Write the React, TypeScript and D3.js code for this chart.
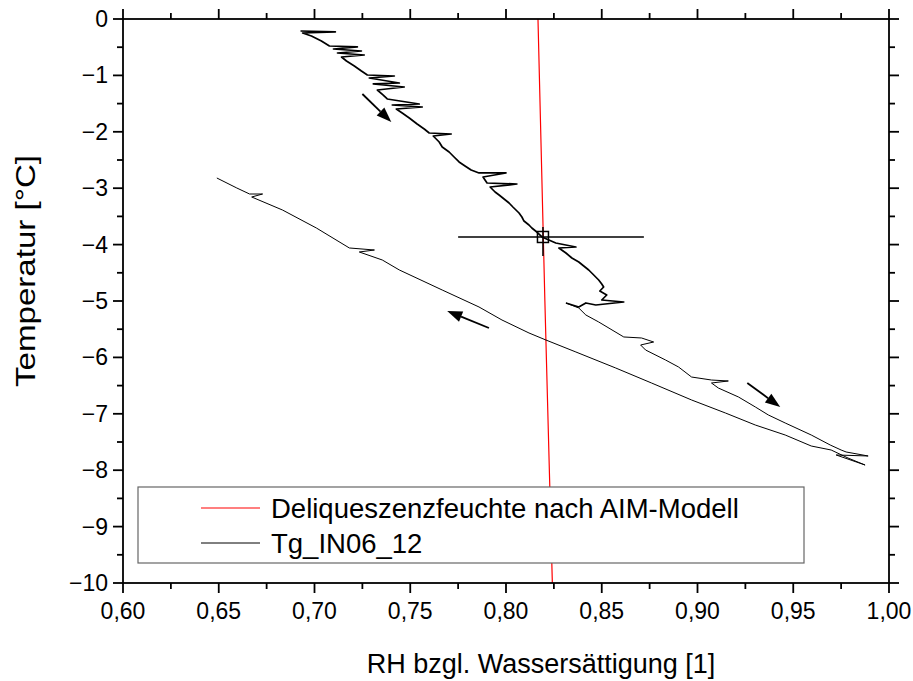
import React from "react";
import * as d3 from "d3";

// ---------- data ----------
const xTicks = [0.6, 0.65, 0.7, 0.75, 0.8, 0.85, 0.9, 0.95, 1.0];
const yTicks = [0, -1, -2, -3, -4, -5, -6, -7, -8, -9, -10];

// Deliquescence humidity (AIM model)
const deliqRH = [0.8167, 0.8203, 0.8242];
const deliqT = [0, -5, -10];

// Tg_IN06_12 — cooling branch (upper, noisy)
const upperBranch: [number, number][] = [
  [0.6927, -0.213], [0.7109, -0.23], [0.6938, -0.248], [0.6984, -0.301], [0.7036, -0.39],
  [0.7078, -0.479], [0.7224, -0.496], [0.7099, -0.532], [0.7245, -0.567], [0.712, -0.603],
  [0.726, -0.638], [0.7141, -0.674], [0.7167, -0.745], [0.7208, -0.833], [0.7245, -0.922],
  [0.7276, -0.993], [0.7417, -1.011], [0.7286, -1.046], [0.7443, -1.135], [0.7307, -1.152],
  [0.7469, -1.206], [0.7328, -1.259], [0.7359, -1.348], [0.738, -1.418], [0.7547, -1.507],
  [0.7406, -1.525], [0.7563, -1.56], [0.7427, -1.596], [0.7458, -1.667], [0.7495, -1.755],
  [0.7536, -1.862], [0.7573, -1.95], [0.7599, -2.021], [0.7714, -2.039], [0.762, -2.074],
  [0.7651, -2.181], [0.7667, -2.27], [0.7703, -2.358], [0.7729, -2.447], [0.7755, -2.535],
  [0.7786, -2.606], [0.7818, -2.677], [0.7859, -2.73], [0.8, -2.73], [0.788, -2.801],
  [0.7901, -2.908], [0.8057, -2.926], [0.7917, -2.979], [0.7943, -3.067], [0.7964, -3.121],
  [0.799, -3.191], [0.8016, -3.262], [0.8036, -3.333], [0.8068, -3.44], [0.8083, -3.511],
  [0.8094, -3.582], [0.812, -3.652], [0.8135, -3.706], [0.8161, -3.777], [0.8188, -3.865],
  [0.8224, -3.918], [0.826, -3.972], [0.8365, -4.043], [0.8276, -4.06], [0.8313, -4.149],
  [0.8344, -4.238], [0.838, -4.309], [0.8406, -4.379], [0.8432, -4.45], [0.8453, -4.521],
  [0.8484, -4.628], [0.85, -4.699], [0.851, -4.752], [0.849, -4.823], [0.8526, -4.894],
  [0.85, -4.982], [0.8615, -5.018], [0.8469, -5.071], [0.8417, -5.035], [0.838, -5.106],
  [0.8313, -5.035],
];

// warming branch (middle) down to the turning point
const middleBranch: [number, number][] = [
  [0.8313, -5.035], [0.838, -5.124], [0.8417, -5.248], [0.8484, -5.372], [0.8615, -5.638],
  [0.8708, -5.656], [0.8771, -5.727], [0.8703, -5.78], [0.8729, -5.869], [0.8833, -6.046],
  [0.8901, -6.17], [0.8969, -6.348], [0.9073, -6.401], [0.9161, -6.418], [0.9073, -6.454],
  [0.9109, -6.543], [0.9214, -6.702], [0.9302, -6.879], [0.937, -7.021], [0.9458, -7.163],
  [0.9594, -7.376], [0.9693, -7.553], [0.975, -7.642], [0.9776, -7.677], [0.9891, -7.748],
  [0.9724, -7.73], [0.9875, -7.908],
];

// return branch (lower) back to the start
const lowerBranch: [number, number][] = [
  [0.9875, -7.908], [0.9786, -7.784], [0.9698, -7.642], [0.9594, -7.571], [0.9458, -7.376],
  [0.9302, -7.199], [0.9146, -6.986], [0.8969, -6.755], [0.876, -6.454], [0.8573, -6.188],
  [0.8365, -5.904], [0.8208, -5.691], [0.812, -5.567], [0.7979, -5.337], [0.7859, -5.106],
  [0.7667, -4.805], [0.7443, -4.45], [0.7354, -4.273], [0.7234, -4.131], [0.7313, -4.096],
  [0.7182, -4.06], [0.701, -3.706], [0.6833, -3.387], [0.6672, -3.156], [0.6729, -3.103],
  [0.6661, -3.103], [0.6594, -2.996], [0.649, -2.819],
];

// error bar point
const errPoint = { rh: 0.8193, t: -3.865, rhLo: 0.775, rhHi: 0.872, tHi: -3.69, tLo: -4.2 };

// direction arrows [x0, y0, x1, y1]
const arrows: [number, number, number, number][] = [
  [0.725, -1.33, 0.7401, -1.826],
  [0.7911, -5.479, 0.7693, -5.177],
  [0.926, -6.454, 0.9432, -6.879],
];

const legendLabels = ["Deliqueszenzfeuchte nach AIM-Modell", "Tg_IN06_12"];
const xTitle = "RH bzgl. Wassersättigung [1]";
const yTitle = "Temperatur [°C]";

// ---------- layout ----------
const W = 913;
const H = 681;
const L = 123, R = 889, T = 19, B = 583;
const FONT = "'Liberation Sans', Arial, sans-serif";

export default function App() {
  const x = d3.scaleLinear().domain([0.6, 1.0]).range([L, R]);
  const y = d3.scaleLinear().domain([0, -10]).range([T, B]);
  const line = d3.line<[number, number]>().x((d) => x(d[0])).y((d) => y(d[1]));
  const fmtX = (v: number) => d3.format(".2f")(v).replace(".", ",");
  const fmtY = (v: number) => (v < 0 ? "\u2212" + String(-v) : String(v));

  const xMinor = xTicks.slice(0, -1).map((v) => v + 0.025);
  const yMinor = yTicks.slice(0, -1).map((v) => v - 0.5);
  const MAJ = 10, MIN = 6;

  const redPts: [number, number][] = deliqRH.map((v, i) => [v, deliqT[i]]);

  const arrowHead = (a: [number, number, number, number], i: number) => {
    const x0 = x(a[0]), y0 = y(a[1]), x1 = x(a[2]), y1 = y(a[3]);
    const ang = Math.atan2(y1 - y0, x1 - x0);
    const hl = 15, hw = 5.5;
    const bx = x1 - hl * Math.cos(ang), by = y1 - hl * Math.sin(ang);
    const px = -Math.sin(ang) * hw, py = Math.cos(ang) * hw;
    return (
      <g key={"ar" + i}>
        <line x1={x0} y1={y0} x2={bx} y2={by} stroke="#000" strokeWidth={1.8} />
        <path d={`M${x1},${y1}L${bx + px},${by + py}L${bx - px},${by - py}Z`} fill="#000" />
      </g>
    );
  };

  return (
    <svg width={W} height={H} style={{ position: "absolute", left: 0, top: 0, background: "#fff" }} fontFamily={FONT}>
      <rect x={0} y={0} width={W} height={H} fill="#fff" />
      {/* red deliquescence line */}
      <path d={line(redPts) || ""} fill="none" stroke="#ff0000" strokeWidth={1.2} />

      {/* data */}
      <path d={line(middleBranch.concat(lowerBranch.slice(1))) || ""} fill="none" stroke="#000" strokeWidth={1} strokeLinejoin="round" />
      <path d={line(upperBranch) || ""} fill="none" stroke="#000" strokeWidth={1.7} strokeLinejoin="round" />

      {/* error bar */}
      <g stroke="#000" strokeWidth={1.5} fill="none">
        <line x1={x(errPoint.rhLo)} x2={x(errPoint.rhHi)} y1={y(errPoint.t)} y2={y(errPoint.t)} />
        <line x1={x(errPoint.rh)} x2={x(errPoint.rh)} y1={y(errPoint.tHi)} y2={y(errPoint.tLo)} />
        <rect x={x(errPoint.rh) - 5.5} y={y(errPoint.t) - 5.5} width={11} height={11} />
      </g>

      {arrows.map(arrowHead)}

      {/* legend */}
      <rect x={138} y={487} width={666} height={76} fill="#fff" stroke="#666" strokeWidth={1.2} />
      <line x1={201} x2={260} y1={508} y2={508} stroke="#ff0000" strokeWidth={1.2} />
      <line x1={201} x2={260} y1={543} y2={543} stroke="#000" strokeWidth={1} />
      <text x={271} y={518} fontSize={27.5}>{legendLabels[0]}</text>
      <text x={271} y={553} fontSize={27.5}>{legendLabels[1]}</text>

      {/* frame */}
      <rect x={L} y={T} width={R - L} height={B - T} fill="none" stroke="#000" strokeWidth={1.8} />

      {/* ticks on all four sides, outward */}
      <g stroke="#000" strokeWidth={1.8}>
        {xTicks.map((v) => (
          <g key={"xt" + v}>
            <line x1={x(v)} x2={x(v)} y1={B} y2={B + MAJ} />
            <line x1={x(v)} x2={x(v)} y1={T} y2={T - MAJ} />
          </g>
        ))}
        {xMinor.map((v) => (
          <g key={"xm" + v}>
            <line x1={x(v)} x2={x(v)} y1={B} y2={B + MIN} />
            <line x1={x(v)} x2={x(v)} y1={T} y2={T - MIN} />
          </g>
        ))}
        {yTicks.map((v) => (
          <g key={"yt" + v}>
            <line x1={L} x2={L - MAJ} y1={y(v)} y2={y(v)} />
            <line x1={R} x2={R + MAJ} y1={y(v)} y2={y(v)} />
          </g>
        ))}
        {yMinor.map((v) => (
          <g key={"ym" + v}>
            <line x1={L} x2={L - MIN} y1={y(v)} y2={y(v)} />
            <line x1={R} x2={R + MIN} y1={y(v)} y2={y(v)} />
          </g>
        ))}
      </g>

      {/* tick labels */}
      {xTicks.map((v) => (
        <text key={"xl" + v} x={x(v)} y={619} fontSize={23} textAnchor="middle">
          {fmtX(v)}
        </text>
      ))}
      {yTicks.map((v) => (
        <text key={"yl" + v} x={108} y={y(v) + 8} fontSize={23} textAnchor="end">
          {fmtY(v)}
        </text>
      ))}

      {/* axis titles */}
      <text x={541} y={673} fontSize={27} textAnchor="middle">{xTitle}</text>
      <text transform="translate(35,271) rotate(-90)" fontSize={27} textAnchor="middle" textLength={232} lengthAdjust="spacingAndGlyphs">{yTitle}</text>
    </svg>
  );
}
